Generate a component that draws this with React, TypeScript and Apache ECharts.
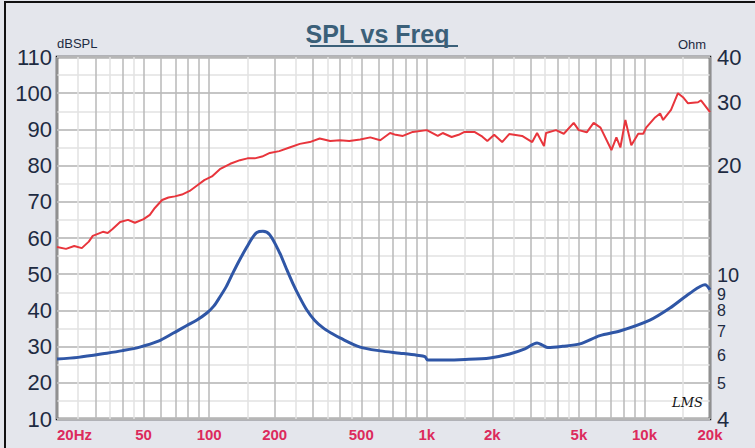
import React, { useEffect, useRef } from "react";
import * as echarts from "echarts";

// SPL (red, dB, left axis)
const redFreq = [20, 22, 24, 26, 28, 29.2, 32.5, 34.2, 36, 39, 42.4, 45.6, 50, 53.4, 56.3, 60.8, 65, 69.6, 75, 81.4, 88, 95, 103, 112, 125, 138.6, 150, 162, 175, 190, 210, 234, 261, 290, 322, 360, 399, 440, 494, 550, 611, 678, 720, 776, 862, 1000, 1123, 1183, 1300, 1400, 1490, 1655, 1800, 1897, 2040, 2218, 2390, 2740, 3050, 3210, 3454, 3530, 3920, 4260, 4730, 4990, 5430, 5840, 6280, 7050, 7430, 7750, 8170, 8700, 9360, 9870, 10180, 11190, 11800, 12180, 13240, 14250, 15030, 15850, 17620, 18180, 20000];
const redSpl = [57.5, 57.0, 57.8, 57.2, 59.0, 60.6, 61.7, 61.4, 62.5, 64.4, 65.0, 64.2, 65.2, 66.4, 68.3, 70.5, 71.2, 71.5, 72.0, 73.0, 74.5, 76.0, 77.0, 79.0, 80.5, 81.5, 82.0, 82.0, 82.5, 83.5, 84.0, 85.0, 86.0, 86.5, 87.5, 86.8, 87.0, 86.8, 87.2, 87.8, 87.0, 89.0, 88.5, 88.2, 89.3, 89.8, 88.2, 89.0, 87.9, 88.5, 89.3, 89.3, 88.0, 86.8, 88.5, 86.5, 88.7, 88.2, 86.5, 89.0, 85.4, 89.0, 89.8, 88.8, 91.8, 89.8, 89.2, 91.8, 90.5, 84.3, 87.8, 85.0, 92.6, 85.6, 88.8, 88.8, 90.5, 93.3, 94.4, 92.6, 95.4, 100.0, 98.9, 97.2, 97.5, 98.0, 94.8];

// Impedance (blue, Ohm, right axis)
const impFreq = [20, 25, 33.9, 40, 48, 58, 68.5, 79, 87.9, 97.6, 105, 112, 120, 128.3, 138, 149, 157, 165.6, 176.7, 190, 211, 225, 242, 260, 281, 305, 334, 365, 399, 494, 611, 752, 900, 980, 1010, 1200, 1500, 1950, 2400, 2823, 3210, 3400, 3600, 4200, 5050, 6240, 7710, 10590, 13090, 16170, 18970, 20000];
const impOhm = [5.86, 5.92, 6.08, 6.18, 6.32, 6.55, 6.91, 7.25, 7.51, 7.85, 8.2, 8.69, 9.3, 10.1, 11.0, 11.94, 12.6, 13.1, 13.2, 12.9, 11.5, 10.5, 9.5, 8.7, 8.0, 7.5, 7.14, 6.9, 6.7, 6.32, 6.17, 6.08, 6.0, 5.95, 5.82, 5.82, 5.84, 5.9, 6.05, 6.25, 6.49, 6.4, 6.3, 6.35, 6.45, 6.8, 7.0, 7.5, 8.1, 8.9, 9.4, 9.1];

const xLabelValues = [20, 50, 100, 200, 500, 1000, 2000, 5000, 10000, 20000];
const xLabelTexts = ["20Hz", "50", "100", "200", "500", "1k", "2k", "5k", "10k", "20k"];
const xMajorGrid = [20, 30, 40, 50, 60, 70, 80, 90, 100, 200, 300, 400, 500, 600, 700, 800, 900, 1000, 2000, 3000, 4000, 5000, 6000, 7000, 8000, 9000, 10000, 20000];
const xMinorGrid = [25, 35, 45, 150, 250, 350, 450, 1500, 2500, 3500, 4500, 15000];
const ohmTicks = [4, 5, 6, 7, 8, 9, 10, 20, 30, 40];

const FONT = "Liberation Sans";
const NAVY = "#1e2b42";

export default function App() {
  const ref = useRef<HTMLDivElement>(null);
  useEffect(() => {
    document.body.style.margin = "0";
    const chart = echarts.init(ref.current!, null, { renderer: "svg" });
    const labelMap: Record<string, string> = {};
    xLabelValues.forEach((v, i) => (labelMap[String(v)] = xLabelTexts[i]));
    chart.setOption({
      animation: false,
      backgroundColor: "#e4e6ec",
      title: {
        text: "SPL vs Freq",
        left: "center",
        top: 16,
        textStyle: { fontFamily: FONT, fontSize: 25, fontWeight: "bold", color: "#3b6079" },
      },
      graphic: [
        { type: "rect", shape: { x: 5, y: 2, width: 760, height: 460 }, style: { fill: "none", stroke: "#111", lineWidth: 2 }, silent: true },
        { type: "rect", shape: { x: 310, y: 45, width: 148, height: 2 }, style: { fill: "#3b6079" }, silent: true },
        { type: "text", left: 57, top: 37, style: { text: "dBSPL", fontFamily: FONT, fontSize: 13, fill: NAVY } },
        { type: "text", left: 678, top: 38, style: { text: "Ohm", fontFamily: FONT, fontSize: 13, fill: NAVY } },
        { type: "text", left: 672, top: 396, z: 100, style: { text: "LMS", fontFamily: "DejaVu Serif", fontStyle: "italic", fontSize: 13, fill: "#111" } },
      ],
      grid: {
        left: 57, right: 45, top: 57, bottom: 29,
        show: true, backgroundColor: "#ffffff", borderColor: "#1a1a1a", borderWidth: 2.5,
      },
      xAxis: [
        {
          type: "log", logBase: 10, min: 20, max: 20000, position: "top",
          axisLine: { show: false },
          axisTick: { show: false, customValues: xMinorGrid },
          axisLabel: { show: false },
          splitLine: { show: true, lineStyle: { color: "#e2e2e2", width: 1.5 } },
        },
        {
          type: "log", logBase: 10, min: 20, max: 20000, position: "bottom",
          axisLine: { show: false },
          axisTick: { show: false, customValues: xMajorGrid },
          axisLabel: {
            customValues: xLabelValues,
            formatter: (v: number) => labelMap[String(Math.round(v))] ?? "",
            color: "#dc2a5c", fontFamily: FONT, fontSize: 15, fontWeight: "bold", margin: 8,
            alignMinLabel: "left",
          },
          splitLine: { show: true, lineStyle: { color: "#b9b9b9", width: 1.5 } },
        },
      ],
      yAxis: [
        {
          type: "value", min: 10, max: 110, interval: 5, position: "left",
          axisLine: { show: false }, axisTick: { show: false }, axisLabel: { show: false },
          splitLine: { show: true, lineStyle: { color: "#e2e2e2", width: 1.5 } },
        },
        {
          type: "value", min: 10, max: 110, interval: 10, position: "left",
          axisLine: { show: false }, axisTick: { show: false },
          axisLabel: { color: NAVY, fontFamily: FONT, fontSize: 22, margin: 5 },
          splitLine: { show: true, lineStyle: { color: "#b9b9b9", width: 1.5 } },
        },
        {
          type: "log", logBase: 10, min: 4, max: 40, position: "right",
          axisLine: { show: false },
          axisTick: { show: false, customValues: ohmTicks },
          axisLabel: {
            customValues: ohmTicks, color: NAVY, fontFamily: FONT, fontSize: 22, margin: 7,
            formatter: (v: number) => {
              const n = Math.round(v);
              if (n === 10) return `{t|${n}}`;
              if (n === 9) return `{n|${n}}`;
              return n >= 5 && n <= 8 ? `{s|${n}}` : String(n);
            },
            rich: {
              t: { fontFamily: FONT, fontSize: 20, lineHeight: 15, color: NAVY },
              n: { fontFamily: FONT, fontSize: 16, lineHeight: 13, color: NAVY, padding: [5, 0, 0, 0] },
              s: { fontFamily: FONT, fontSize: 16, lineHeight: 15, color: NAVY },
            },
          },
          splitLine: { show: false },
        },
      ],
      series: [
        {
          type: "line", name: "SPL", xAxisIndex: 1, yAxisIndex: 1, showSymbol: false,
          data: redFreq.map((f, i) => [f, redSpl[i]]),
          lineStyle: { color: "#e8353c", width: 2 },
        },
        {
          type: "line", name: "Impedance", xAxisIndex: 1, yAxisIndex: 2, showSymbol: false, smooth: 0.3,
          data: impFreq.map((f, i) => [f, impOhm[i]]),
          lineStyle: { color: "#2f56a6", width: 3 },
        },
      ],
    });
    return () => chart.dispose();
  }, []);
  return <div ref={ref} style={{ position: "fixed", left: 0, top: 0, width: 755, height: 448 }} />;
}
